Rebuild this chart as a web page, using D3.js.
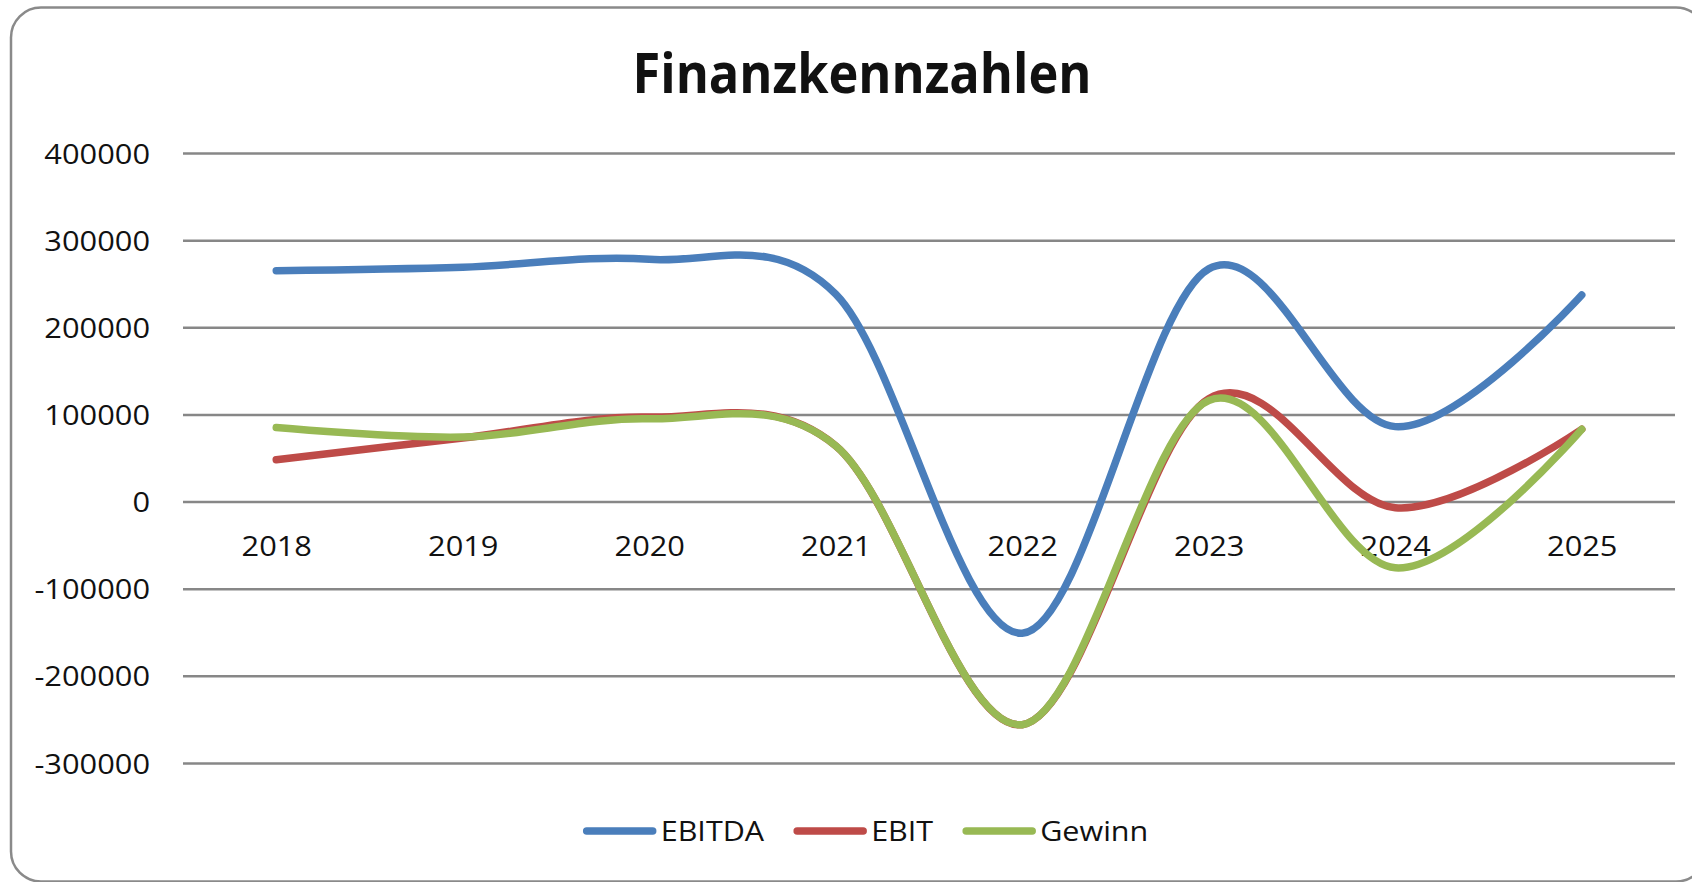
<!DOCTYPE html>
<html>
<head>
<meta charset="utf-8">
<script src="https://cdn.jsdelivr.net/npm/d3@7"></script>
<style>
  html, body { margin: 0; padding: 0; background: #fff; overflow: hidden; }
  text { font-family: "Open Sans", sans-serif; fill: #111; }
</style>
</head>
<body>
<div id="chart"></div>
<script>
const years = ["2018", "2019", "2020", "2021", "2022", "2023", "2024", "2025"];
const ebitda = [265000, 269000, 278000, 238000, -151000, 267000, 86000, 237000];
const ebit = [48000, 73000, 97000, 64000, -256000, 118000, -7000, 83000];
const gewinn = [85000, 74000, 95000, 64000, -256000, 116000, -76000, 83000];
const seriesNames = ["EBITDA", "EBIT", "Gewinn"];
const yTicks = [-300000, -200000, -100000, 0, 100000, 200000, 300000, 400000];

document.addEventListener("DOMContentLoaded", function () {
  const width = 1692;
  const height = 882;
  const colors = ["#4a7ebb", "#be4b48", "#98b954"];
  const plot = { left: 183, right: 1675, top: 153, bottom: 763 };

  // the reference font is a bit wider than Open Sans, stretch text horizontally
  function widen(sel, k) {
    sel.each(function () {
      const w = this.getComputedTextLength();
      d3.select(this)
        .attr("textLength", w * k)
        .attr("lengthAdjust", "spacingAndGlyphs");
    });
  }

  const svg = d3
    .select("#chart")
    .append("svg")
    .attr("width", width)
    .attr("height", height);

  // chart frame
  svg
    .append("rect")
    .attr("x", 11)
    .attr("y", 7.5)
    .attr("width", 1695)
    .attr("height", 874)
    .attr("rx", 30)
    .attr("fill", "#fff")
    .attr("stroke", "#8a8a8a")
    .attr("stroke-width", 2.5);

  svg
    .append("text")
    .attr("x", 862)
    .attr("y", 93)
    .attr("text-anchor", "middle")
    .attr("textLength", 459)
    .attr("lengthAdjust", "spacingAndGlyphs")
    .style("font-size", "56px")
    .style("font-weight", "bold")
    .text("Finanzkennzahlen");

  const x = d3
    .scalePoint()
    .domain(years)
    .range([plot.left, plot.right])
    .padding(0.5);

  const y = d3
    .scaleLinear()
    .domain([-300000, 400000])
    .range([plot.bottom, plot.top]);

  // value axis with gridlines
  const yAxis = svg
    .append("g")
    .attr("transform", `translate(${plot.left},0)`)
    .call(
      d3
        .axisLeft(y)
        .tickValues(yTicks)
        .tickFormat((d) => String(d))
        .tickSize(-(plot.right - plot.left))
        .tickPadding(33)
    );
  yAxis.select(".domain").remove();
  yAxis.selectAll("line").attr("stroke", "#878787").attr("stroke-width", 2.5);
  yAxis
    .selectAll("text")
    .attr("dy", "0.36em")
    .style("font-size", "28px")
    .style("font-family", "'Open Sans', sans-serif")
    .attr("fill", "#111")
    .call(widen, 1.1);

  // category axis crossing at zero
  const xAxis = svg
    .append("g")
    .attr("transform", `translate(0,${y(0)})`)
    .call(d3.axisBottom(x).tickSize(0).tickPadding(35));
  xAxis.select(".domain").remove();
  xAxis
    .selectAll("text")
    .style("font-size", "28px")
    .style("font-family", "'Open Sans', sans-serif")
    .attr("fill", "#111")
    .call(widen, 1.1);

  const series = [ebitda, ebit, gewinn];
  const line = d3
    .line()
    .x((d, i) => x(years[i]))
    .y((d) => y(d))
    .curve(d3.curveCardinal.tension(0));

  svg
    .selectAll(".series")
    .data(series)
    .enter()
    .append("path")
    .attr("class", "series")
    .attr("d", (d) => line(d))
    .attr("fill", "none")
    .attr("stroke", (d, i) => colors[i])
    .attr("stroke-width", 7.5)
    .attr("stroke-linecap", "round")
    .attr("stroke-linejoin", "round");

  // legend
  const legend = svg.append("g");
  const swatch = 72;
  const gap = 5;
  const itemGap = 30;
  let cursor = 0;
  seriesNames.forEach((name, i) => {
    const g = legend.append("g");
    g.append("line")
      .attr("x1", 3)
      .attr("x2", swatch - 3)
      .attr("y1", 0)
      .attr("y2", 0)
      .attr("stroke", colors[i])
      .attr("stroke-width", 7.5)
      .attr("stroke-linecap", "round");
    const t = g
      .append("text")
      .attr("x", swatch + gap)
      .attr("dy", "0.36em")
      .style("font-size", "28px")
      .text(name)
      .call(widen, 1.09);
    const w = swatch + gap + +t.attr("textLength");
    g.attr("transform", `translate(${cursor},0)`);
    cursor += w + itemGap;
  });
  const total = cursor - itemGap;
  legend.attr("transform", `translate(${866 - total / 2},831)`);
});
</script>
</body>
</html>
